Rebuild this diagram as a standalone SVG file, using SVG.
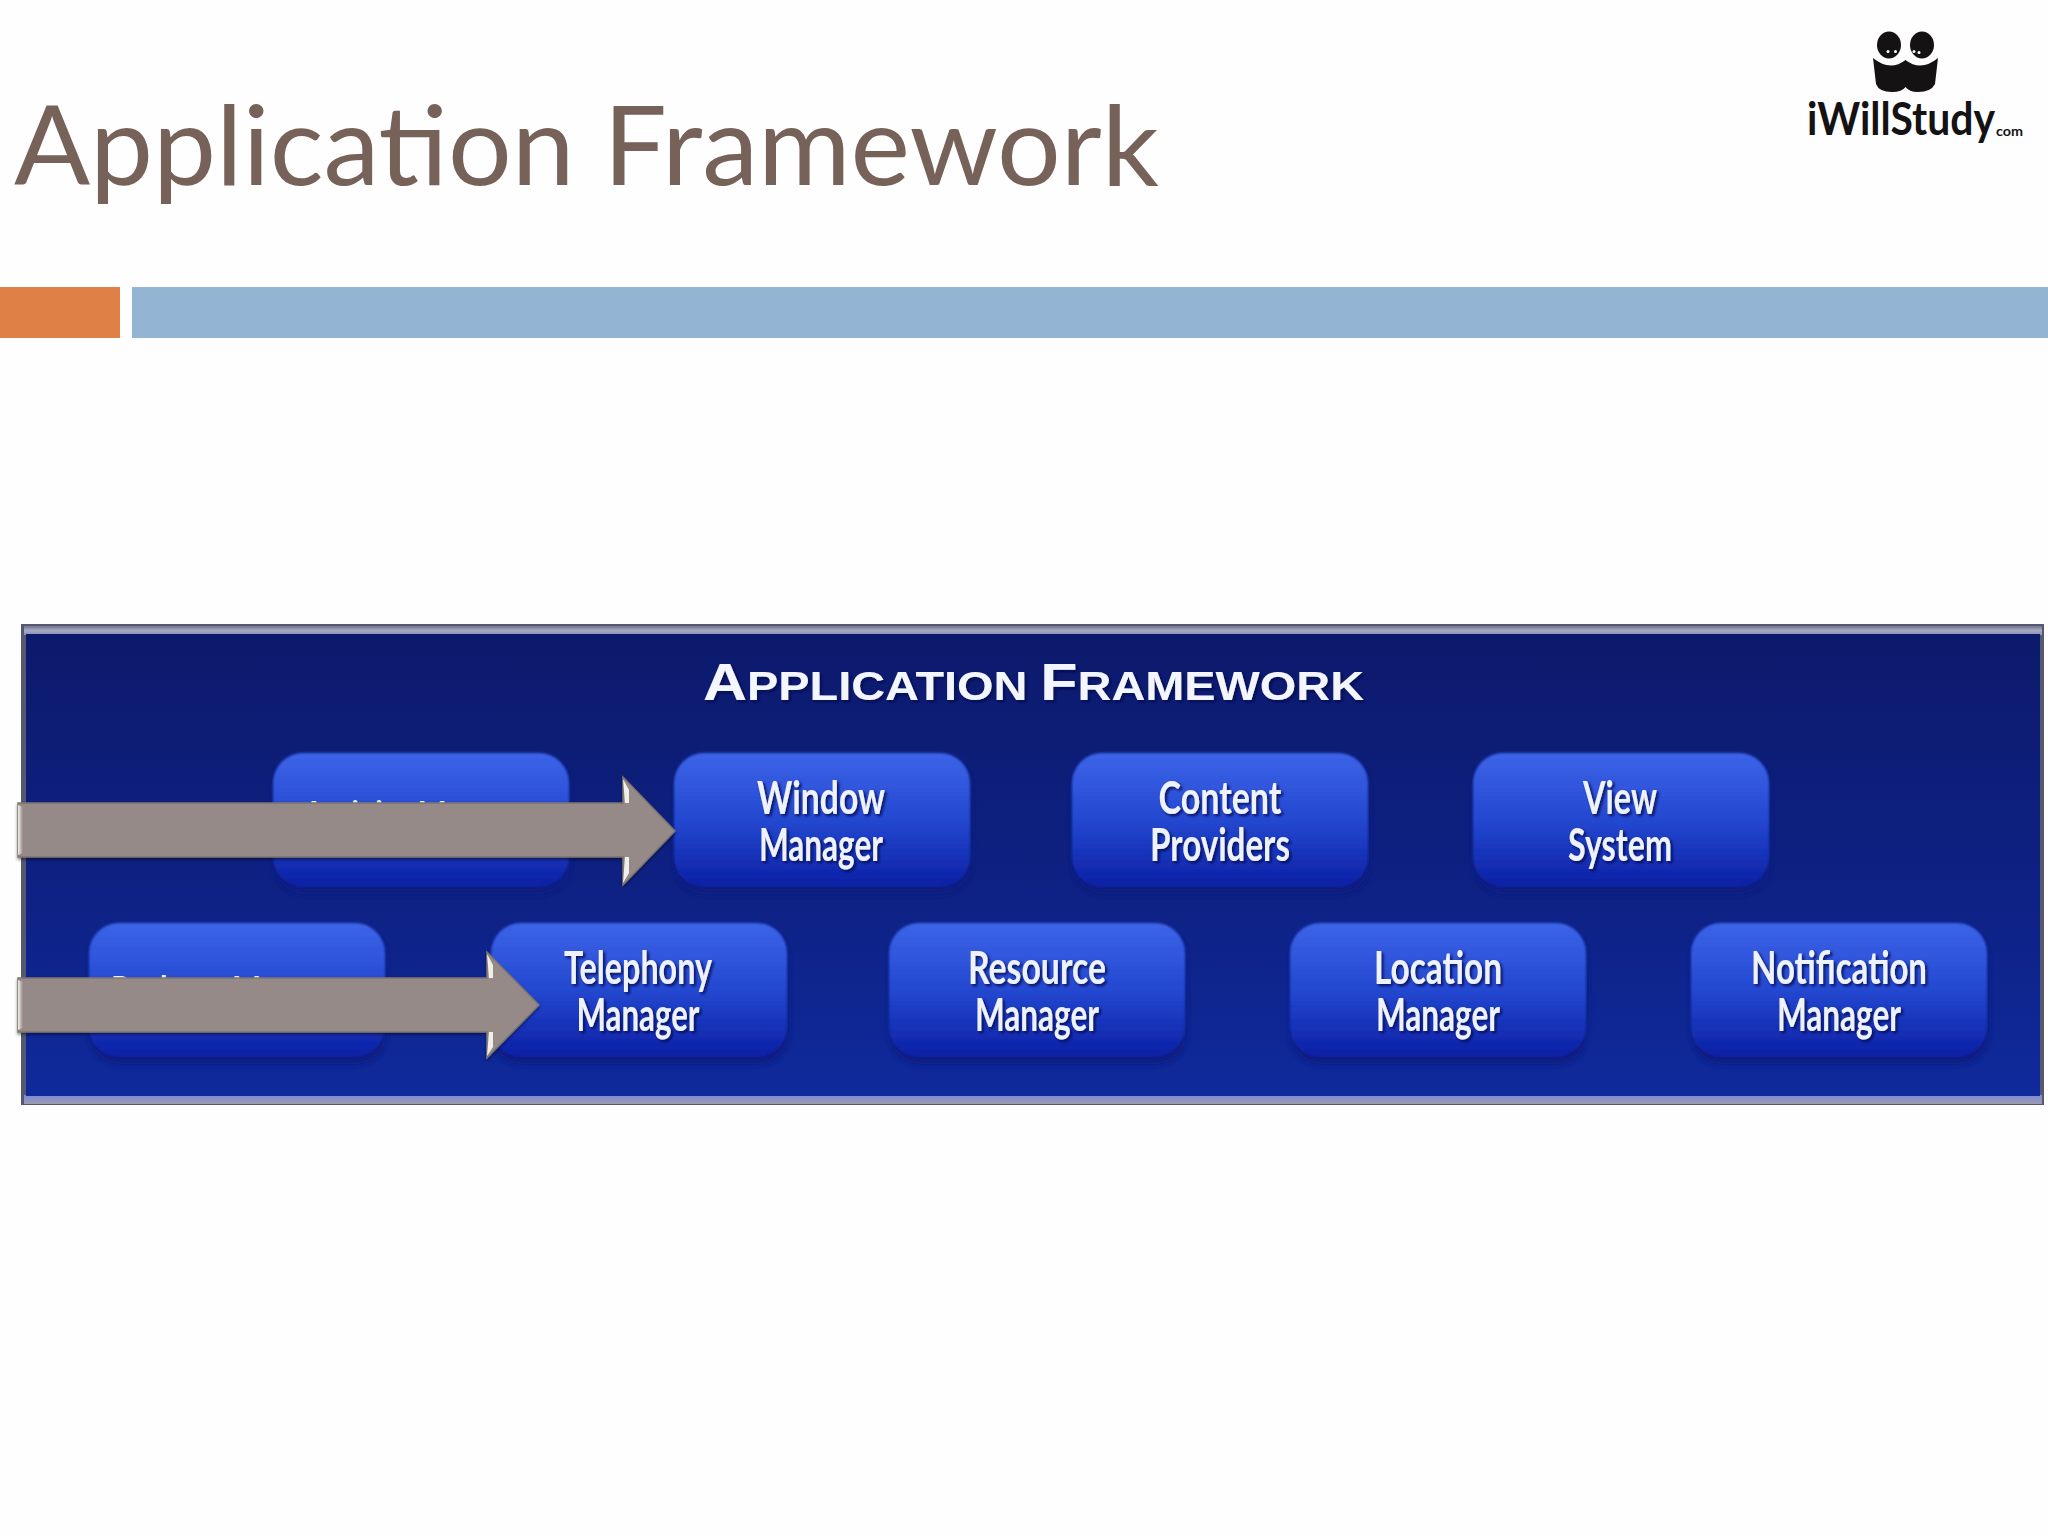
<svg xmlns="http://www.w3.org/2000/svg" width="2048" height="1536" viewBox="0 0 2048 1536">
<defs>
<linearGradient id="panel" x1="0" y1="0" x2="0" y2="1"><stop offset="0" stop-color="#0c1a6c"/><stop offset="0.6" stop-color="#0e2286"/><stop offset="1" stop-color="#0f2a9c"/></linearGradient>
<linearGradient id="nodeFill" x1="0" y1="0" x2="0" y2="1"><stop offset="0" stop-color="#3c64e8"/><stop offset="0.5" stop-color="#2448d0"/><stop offset="1" stop-color="#0b20a4"/></linearGradient>
<linearGradient id="rim" x1="0" y1="0" x2="0" y2="1"><stop offset="0" stop-color="#70748f"/><stop offset="0.5" stop-color="#a8abc0"/><stop offset="1" stop-color="#8a8fb8"/></linearGradient>
<linearGradient id="rimB" x1="0" y1="0" x2="0" y2="1"><stop offset="0" stop-color="#7f8ad8"/><stop offset="1" stop-color="#9a9cb0"/></linearGradient>
<filter id="soft" x="-10%" y="-20%" width="120%" height="140%"><feGaussianBlur stdDeviation="3"/></filter>
<filter id="edge" x="-5%" y="-5%" width="110%" height="110%"><feGaussianBlur stdDeviation="1"/></filter>
<filter id="txt" x="-10%" y="-20%" width="120%" height="140%"><feGaussianBlur in="SourceAlpha" stdDeviation="1.5" result="b"/><feOffset in="b" dx="2" dy="2" result="o"/><feFlood flood-color="#050c50" flood-opacity="0.9"/><feComposite in2="o" operator="in" result="s"/><feGaussianBlur in="SourceGraphic" stdDeviation="0.7" result="g"/><feMerge><feMergeNode in="s"/><feMergeNode in="g"/></feMerge></filter>
<filter id="ash" x="-2%" y="-10%" width="104%" height="125%"><feDropShadow dx="0" dy="2" stdDeviation="1.500" flood-color="#000" flood-opacity="0.45"/></filter>
<linearGradient id="hlg" x1="0" y1="0" x2="1" y2="0"><stop offset="0" stop-color="#f4f0ec"/><stop offset="1" stop-color="#958a87"/></linearGradient>
<g id="box"><rect x="1" y="5" width="296" height="136" rx="30" fill="#0a1a80" filter="url(#soft)"/><rect x="0" y="0" width="296" height="134" rx="30" fill="url(#nodeFill)" filter="url(#edge)"/></g>
</defs>
<style>
.lbl{font-family:"Lato","Liberation Sans",sans-serif;font-size:46px;font-weight:700;fill:#eef2ff;text-anchor:middle}
.head{font-family:"Liberation Sans",sans-serif;font-weight:700;fill:#f4f6ff}
.ar{fill:#958a87;stroke:#7d7572;stroke-width:1.5;filter:url(#ash)}
.hl{fill:#f2eeea}
.tl{fill:url(#hlg)}
</style>
<rect id="page" width="2048" height="1536" fill="#fefefe"/>
<text id="title" x="14" y="185" font-family="Lato,'Liberation Sans',sans-serif" font-size="110" fill="#77625a" textLength="1145" lengthAdjust="spacingAndGlyphs">Application Framework</text>
<rect id="bar-orange" x="0" y="287" width="120" height="51" fill="#df8047"/>
<rect id="bar-blue" x="132" y="287" width="1916" height="51" fill="#94b4d4"/>

<g id="logo">
<ellipse cx="1889" cy="45" rx="12" ry="13.5" fill="#141212"/>
<ellipse cx="1922" cy="45" rx="12" ry="13.5" fill="#141212"/>
<circle cx="1888" cy="51.500" r="1.500" fill="#fff"/><circle cx="1895.500" cy="51.500" r="1.500" fill="#fff"/>
<circle cx="1914" cy="51.500" r="1.500" fill="#fff"/><circle cx="1919" cy="52.500" r="1.500" fill="#fff"/>
<path d="M1873 58Q1890 72 1905.500 60Q1921 72 1938 58L1935 84Q1931 92 1918 92Q1909 92 1905.500 87Q1902 92 1892 92Q1879 92 1876 84Z" fill="#141212"/>
<text x="1807" y="135" font-family="Lato,'Liberation Sans',sans-serif" font-size="46" font-weight="700" fill="#141212" textLength="188" lengthAdjust="spacingAndGlyphs">iWillStudy</text>
<text x="1996" y="136" font-family="Lato,'Liberation Sans',sans-serif" font-size="14" font-weight="700" fill="#141212" textLength="27" lengthAdjust="spacingAndGlyphs">com</text>
</g>

<g id="panel-frame">
<rect x="21" y="624" width="2023" height="481" fill="#55586e"/>
<rect x="24" y="626" width="2018" height="9" fill="url(#rim)"/>
<rect x="24" y="1095" width="2018" height="9" fill="url(#rimB)"/>
<rect x="26" y="634" width="2014" height="462" fill="url(#panel)"/>
<text id="panel-title" class="head" filter="url(#txt)" x="703" y="700" font-size="40" textLength="661" lengthAdjust="spacingAndGlyphs"><tspan font-size="52">A</tspan>PPLICATION <tspan font-size="52">F</tspan>RAMEWORK</text>
</g>

<g id="node-activity"><use href="#box" x="273" y="753"/><text class="lbl" x="421" y="834" textLength="236" lengthAdjust="spacingAndGlyphs">Activity Manager</text></g>
<g id="node-window"><use href="#box" x="674" y="753"/><text class="lbl" x="821" y="814" textLength="128" lengthAdjust="spacingAndGlyphs" filter="url(#txt)">Window</text><text class="lbl" x="821" y="861" textLength="124" lengthAdjust="spacingAndGlyphs" filter="url(#txt)">Manager</text></g>
<g id="node-content"><use href="#box" x="1072" y="753"/><text class="lbl" x="1220" y="814" textLength="123" lengthAdjust="spacingAndGlyphs" filter="url(#txt)">Content</text><text class="lbl" x="1220" y="861" textLength="140" lengthAdjust="spacingAndGlyphs" filter="url(#txt)">Providers</text></g>
<g id="node-view"><use href="#box" x="1473" y="753"/><text class="lbl" x="1620" y="814" textLength="74" lengthAdjust="spacingAndGlyphs" filter="url(#txt)">View</text><text class="lbl" x="1620" y="861" textLength="104" lengthAdjust="spacingAndGlyphs" filter="url(#txt)">System</text></g>
<g id="node-package"><use href="#box" x="89" y="923"/><text class="lbl" x="232" y="1009" textLength="242" lengthAdjust="spacingAndGlyphs">Package Manager</text></g>
<g id="node-telephony"><use href="#box" x="491" y="923"/><text class="lbl" x="638" y="984" textLength="148" lengthAdjust="spacingAndGlyphs" filter="url(#txt)">Telephony</text><text class="lbl" x="638" y="1031" textLength="123" lengthAdjust="spacingAndGlyphs" filter="url(#txt)">Manager</text></g>
<g id="node-resource"><use href="#box" x="889" y="923"/><text class="lbl" x="1037" y="984" textLength="138" lengthAdjust="spacingAndGlyphs" filter="url(#txt)">Resource</text><text class="lbl" x="1037" y="1031" textLength="124" lengthAdjust="spacingAndGlyphs" filter="url(#txt)">Manager</text></g>
<g id="node-location"><use href="#box" x="1290" y="923"/><text class="lbl" x="1438" y="984" textLength="128" lengthAdjust="spacingAndGlyphs" filter="url(#txt)">Location</text><text class="lbl" x="1438" y="1031" textLength="124" lengthAdjust="spacingAndGlyphs" filter="url(#txt)">Manager</text></g>
<g id="node-notification"><use href="#box" x="1691" y="923"/><text class="lbl" x="1839" y="984" textLength="176" lengthAdjust="spacingAndGlyphs" filter="url(#txt)">Notification</text><text class="lbl" x="1839" y="1031" textLength="124" lengthAdjust="spacingAndGlyphs" filter="url(#txt)">Manager</text></g>

<g id="connectors">
<polygon class="ar" points="18,803 623,803 623,777 675,831 623,885 623,857 18,857"/>
<polygon class="tl" points="18,805 23,807 23,853 18,855"/>
<polygon class="hl" points="623,779 629,790 629,803 625,803"/>
<polygon class="hl" points="625,857 629,857 629,873 623,883"/>
<polygon class="ar" points="18,978 487,978 487,952 539,1005 487,1058 487,1032 18,1032"/>
<polygon class="tl" points="18,980 23,982 23,1028 18,1030"/>
<polygon class="hl" points="487,954 493,965 493,978 489,978"/>
<polygon class="hl" points="489,1032 493,1032 493,1047 487,1056"/>
</g>
</svg>
